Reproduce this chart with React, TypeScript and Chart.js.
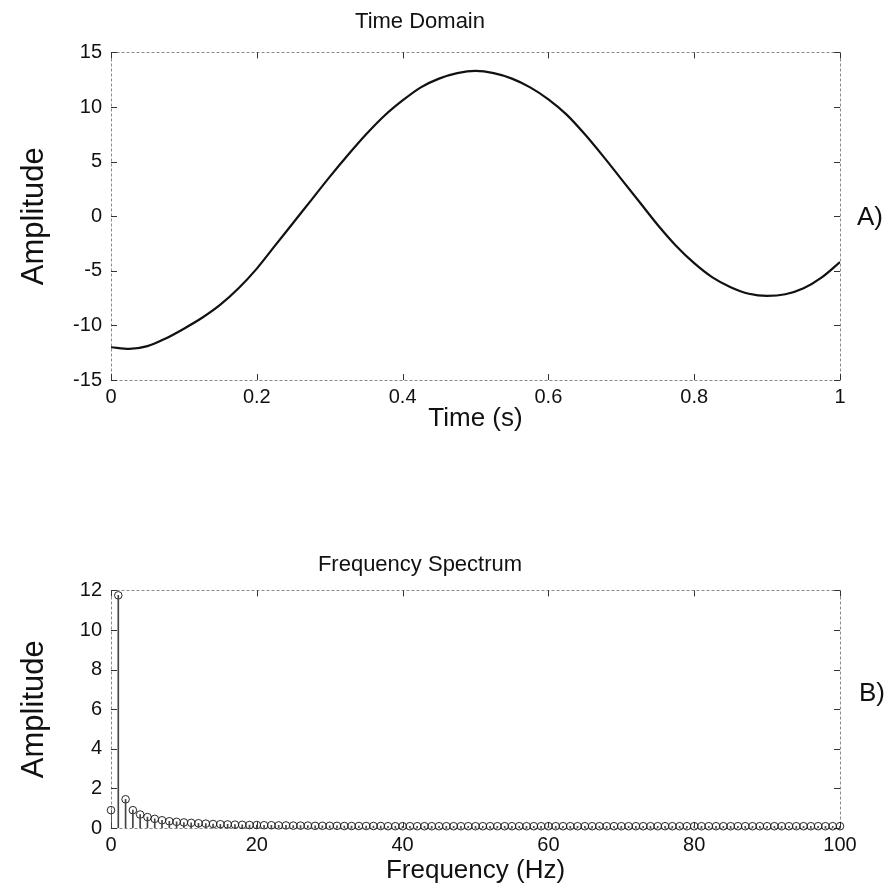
import React, { useEffect, useRef } from "react";
import { Chart, registerables } from "chart.js";

Chart.register(...registerables);

// ---- Time domain data ----
const timeSec = [
  0, 0.025, 0.05, 0.075, 0.1, 0.125, 0.15, 0.175, 0.2, 0.225,
  0.25, 0.275, 0.3, 0.325, 0.35, 0.375, 0.4, 0.425, 0.45, 0.475,
  0.5, 0.525, 0.55, 0.575, 0.6, 0.625, 0.65, 0.675, 0.7, 0.725,
  0.75, 0.775, 0.8, 0.825, 0.85, 0.875, 0.9, 0.925, 0.95, 0.975, 1.0,
];
const timeAmp = [
  -12.0, -12.15, -11.9, -11.2, -10.3, -9.3, -8.1, -6.6, -4.8, -2.7,
  -0.6, 1.5, 3.6, 5.6, 7.5, 9.2, 10.6, 11.8, 12.6, 13.1,
  13.3, 13.1, 12.6, 11.8, 10.7, 9.3, 7.5, 5.5, 3.4, 1.3,
  -0.8, -2.7, -4.3, -5.6, -6.5, -7.1, -7.3, -7.15, -6.6, -5.6, -4.2,
];
const timeXTicks = [0, 0.2, 0.4, 0.6, 0.8, 1];
const timeYTicks = [-15, -10, -5, 0, 5, 10, 15];

// ---- Frequency spectrum data ----
const freqHz = [
  0, 1, 2, 3, 4, 5, 6, 7, 8, 9,
  10, 11, 12, 13, 14, 15, 16, 17, 18, 19,
  20, 21, 22, 23, 24, 25, 26, 27, 28, 29,
  30, 31, 32, 33, 34, 35, 36, 37, 38, 39,
  40, 41, 42, 43, 44, 45, 46, 47, 48, 49,
  50, 51, 52, 53, 54, 55, 56, 57, 58, 59,
  60, 61, 62, 63, 64, 65, 66, 67, 68, 69,
  70, 71, 72, 73, 74, 75, 76, 77, 78, 79,
  80, 81, 82, 83, 84, 85, 86, 87, 88, 89,
  90, 91, 92, 93, 94, 95, 96, 97, 98, 99, 100,
];
const freqAmp = [
  0.9, 11.75, 1.45, 0.9, 0.68, 0.55, 0.46, 0.39, 0.34, 0.31,
  0.28, 0.26, 0.24, 0.22, 0.2, 0.19, 0.18, 0.17, 0.16, 0.15,
  0.15, 0.14, 0.14, 0.13, 0.13, 0.12, 0.12, 0.12, 0.11, 0.11,
  0.11, 0.11, 0.1, 0.1, 0.1, 0.1, 0.1, 0.1, 0.09, 0.09,
  0.09, 0.09, 0.09, 0.09, 0.09, 0.09, 0.09, 0.09, 0.09, 0.09,
  0.09, 0.09, 0.09, 0.09, 0.09, 0.09, 0.09, 0.09, 0.09, 0.09,
  0.09, 0.09, 0.09, 0.09, 0.09, 0.09, 0.09, 0.09, 0.09, 0.09,
  0.09, 0.09, 0.09, 0.09, 0.09, 0.09, 0.09, 0.09, 0.09, 0.09,
  0.09, 0.09, 0.09, 0.09, 0.09, 0.09, 0.09, 0.09, 0.09, 0.09,
  0.09, 0.09, 0.09, 0.09, 0.09, 0.09, 0.09, 0.09, 0.09, 0.09, 0.09,
];
const freqXTicks = [0, 20, 40, 60, 80, 100];
const freqYTicks = [0, 2, 4, 6, 8, 10, 12];

const FONT = "'Liberation Sans', Arial, Helvetica, sans-serif";
const NARROW = "'Liberation Sans Narrow', 'Liberation Sans', Arial, sans-serif";

const framePlugin = {
  id: "matlabFrame",
  beforeDatasetsDraw(chart: any) {
    const { ctx, chartArea } = chart;
    const { left, top, right, bottom } = chartArea;
    const xs = chart.scales.x;
    const ys = chart.scales.y;
    ctx.save();
    ctx.strokeStyle = "#8a8a8a";
    ctx.lineWidth = 1;
    ctx.setLineDash([3, 2]);
    ctx.strokeRect(Math.round(left) + 0.5, Math.round(top) + 0.5, Math.round(right - left), Math.round(bottom - top));
    ctx.setLineDash([]);
    ctx.strokeStyle = "#333";
    const tl = 6;
    const line = (x1: number, y1: number, x2: number, y2: number) => {
      ctx.beginPath();
      ctx.moveTo(x1, y1);
      ctx.lineTo(x2, y2);
      ctx.stroke();
    };
    xs.ticks.forEach((t: any) => {
      const px = Math.round(xs.getPixelForValue(t.value)) + 0.5;
      line(px, bottom, px, bottom - tl);
      line(px, top, px, top + tl);
    });
    ys.ticks.forEach((t: any) => {
      const py = Math.round(ys.getPixelForValue(t.value)) + 0.5;
      line(left, py, left + tl, py);
      line(right, py, right - tl, py);
    });
    ctx.restore();
  },
};

function fmt(v: number) {
  return String(Math.round(v * 1000) / 1000);
}

function TimeChart() {
  const ref = useRef<HTMLCanvasElement>(null);
  useEffect(() => {
    const chart = new Chart(ref.current!, {
      type: "line",
      data: {
        datasets: [
          {
            data: timeSec.map((t, i) => ({ x: t, y: timeAmp[i] })),
            borderColor: "#111",
            borderWidth: 2.2,
            pointRadius: 0,
            cubicInterpolationMode: "monotone",
            fill: false,
          },
        ],
      },
      options: {
        animation: false,
        responsive: false,
        events: [],
        layout: { padding: { left: 0, right: 52, top: 0, bottom: 0 } },
        plugins: {
          legend: { display: false },
          tooltip: { enabled: false },
          title: {
            display: true,
            text: "Time Domain",
            color: "#111",
            font: { family: FONT, size: 22, weight: "normal" },
            padding: { top: 9, bottom: 17 },
          },
        },
        scales: {
          x: {
            type: "linear",
            min: 0,
            max: 1,
            afterBuildTicks: (s: any) => {
              s.ticks = timeXTicks.map((v) => ({ value: v }));
            },
            afterFit: (s: any) => {
              s.height = 66;
            },
            grid: { display: false, drawTicks: false },
            border: { display: false },
            ticks: {
              color: "#111",
              font: { family: NARROW, size: 20 },
              padding: 5,
              maxRotation: 0,
              callback: (v: any) => fmt(Number(v)),
            },
            title: {
              display: true,
              text: "Time (s)",
              color: "#111",
              font: { family: FONT, size: 26 },
              padding: { top: 0, bottom: 12 },
            },
          },
          y: {
            type: "linear",
            min: -15,
            max: 15,
            afterBuildTicks: (s: any) => {
              s.ticks = timeYTicks.map((v) => ({ value: v }));
            },
            afterFit: (s: any) => {
              s.width = 111;
            },
            grid: { display: false, drawTicks: false },
            border: { display: false },
            ticks: {
              color: "#111",
              font: { family: NARROW, size: 20 },
              padding: 9,
              callback: (v: any) => fmt(Number(v)),
            },
            title: {
              display: true,
              text: "Amplitude",
              color: "#111",
              font: { family: FONT, size: 31 },
              padding: { top: 16, bottom: 0 },
            },
          },
        },
      },
      plugins: [framePlugin],
    });
    return () => chart.destroy();
  }, []);
  return <canvas ref={ref} width={892} height={446} style={{ position: "absolute", left: 0, top: 0 }} />;
}

function FreqChart() {
  const ref = useRef<HTMLCanvasElement>(null);
  useEffect(() => {
    const pts = freqHz.map((f, i) => ({ x: f, y: freqAmp[i] }));
    const chart = new Chart(ref.current!, {
      type: "bar",
      data: {
        datasets: [
          {
            type: "bar",
            data: pts,
            backgroundColor: "#444",
            barThickness: 1,
            borderWidth: 0,
          } as any,
          {
            type: "line",
            data: pts,
            showLine: false,
            pointStyle: "circle",
            pointRadius: 3.8,
            pointBorderWidth: 0.9,
            pointBorderColor: "#111",
            pointBackgroundColor: "rgba(255,255,255,0)",
            clip: false,
          } as any,
        ],
      },
      options: {
        animation: false,
        responsive: false,
        events: [],
        layout: { padding: { left: 0, right: 52, top: 0, bottom: 0 } },
        plugins: {
          legend: { display: false },
          tooltip: { enabled: false },
          title: {
            display: true,
            text: "Frequency Spectrum",
            color: "#111",
            font: { family: FONT, size: 22, weight: "normal" },
            padding: { top: 106, bottom: 12 },
          },
        },
        scales: {
          x: {
            type: "linear",
            min: 0,
            max: 100,
            offset: false,
            afterBuildTicks: (s: any) => {
              s.ticks = freqXTicks.map((v) => ({ value: v }));
            },
            afterFit: (s: any) => {
              s.height = 64;
            },
            grid: { display: false, drawTicks: false, offset: false },
            border: { display: false },
            ticks: {
              color: "#111",
              font: { family: FONT, size: 20 },
              padding: 5,
              maxRotation: 0,
              callback: (v: any) => fmt(Number(v)),
            },
            title: {
              display: true,
              text: "Frequency (Hz)",
              color: "#111",
              font: { family: FONT, size: 26 },
              padding: { top: 0, bottom: 6 },
            },
          },
          y: {
            type: "linear",
            min: 0,
            max: 12,
            afterBuildTicks: (s: any) => {
              s.ticks = freqYTicks.map((v) => ({ value: v }));
            },
            afterFit: (s: any) => {
              s.width = 111;
            },
            grid: { display: false, drawTicks: false },
            border: { display: false },
            ticks: {
              color: "#111",
              font: { family: FONT, size: 20 },
              padding: 9,
              callback: (v: any) => fmt(Number(v)),
            },
            title: {
              display: true,
              text: "Amplitude",
              color: "#111",
              font: { family: FONT, size: 31 },
              padding: { top: 16, bottom: 0 },
            },
          },
        },
      },
      plugins: [framePlugin],
    });
    return () => chart.destroy();
  }, []);
  return <canvas ref={ref} width={892} height={446} style={{ position: "absolute", left: 0, top: 446 }} />;
}

export default function App() {
  const labelStyle: React.CSSProperties = {
    position: "absolute",
    fontFamily: FONT,
    fontSize: 26,
    color: "#111",
    lineHeight: "30px",
  };
  return (
    <div style={{ position: "absolute", left: 0, top: 0, width: 892, height: 892, background: "#fff", overflow: "hidden" }}>
      <TimeChart />
      <FreqChart />
      <div style={{ ...labelStyle, left: 857, top: 201 }}>A)</div>
      <div style={{ ...labelStyle, left: 859, top: 677 }}>B)</div>
    </div>
  );
}
